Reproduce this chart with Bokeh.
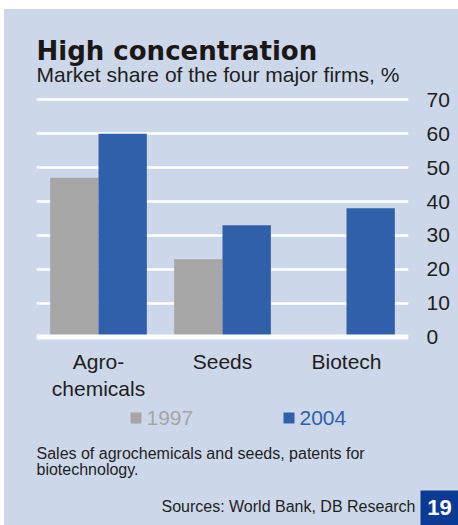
import numpy as np
from bokeh.plotting import figure
from bokeh.layouts import column
from bokeh.models import (ColumnDataSource, FactorRange, Range1d, FixedTicker,
                          Span, Label, BoxAnnotation)
from bokeh.transform import dodge
from bokeh.embed import file_html
from bokeh.resources import INLINE

# ---------------- data ----------------
categories = ["Agro-\nchemicals", "Seeds", "Biotech"]
series_names = ["1997", "2004"]
share_1997 = [47, 23, float("nan")]   # no 1997 value for Biotech
share_2004 = [60, 33, 38]
y_ticks = [0, 10, 20, 30, 40, 50, 60, 70]

title_text = "High concentration"
subtitle_text = "Market share of the four major firms, %"
note_lines = ["Sales of agrochemicals and seeds, patents for", "biotechnology."]
source_text = "Sources: World Bank, DB Research"
chart_number = "19"

# ---------------- style ----------------
BG = "#CCD8EA"
GRAY = "#A6A6A6"
BLUE = "#3060AA"
NAVY = "#0B3A94"
TXT = "#1E1E1E"
FONT = "Liberation Sans"
W = 454


def text_fig(h):
    f = figure(width=W, height=h, x_range=Range1d(0, W), y_range=Range1d(h, 0),
               min_border=0, min_border_left=0, min_border_right=0,
               min_border_top=0, min_border_bottom=0,
               x_axis_type=None, y_axis_type=None, toolbar_location=None,
               output_backend="svg", background_fill_color=None,
               border_fill_color=BG, outline_line_color=None)
    f.xgrid.visible = False
    f.ygrid.visible = False
    try:
        f.frame_align = False
    except Exception:
        pass
    return f


def lab(f, x, y, text, size, color=TXT, style="normal", align="left",
        font=FONT, baseline="alphabetic"):
    f.add_layout(Label(x=x, y=y, text=text, text_font=font, text_font_size=size,
                       text_color=color, text_font_style=style,
                       text_align=align, text_baseline=baseline))


# ---------------- header ----------------
top = text_fig(77)
lab(top, 32, 41, title_text, "26px", style="bold", font="DejaVu Sans", color="#1A1716")
lab(top, 32, 65, subtitle_text, "21px")

# ---------------- main chart ----------------
src = ColumnDataSource(dict(cat=categories, y1997=share_1997, y2004=share_2004))

p = figure(x_range=FactorRange(factors=categories, range_padding=0),
           y_range=Range1d(-1, 71),
           frame_width=372, frame_height=244,
           min_border_left=32, min_border_right=50,
           min_border_top=10, min_border_bottom=63,
           y_axis_location="right", toolbar_location=None,
           output_backend="svg",
           background_fill_color=None, border_fill_color=BG,
           outline_line_color=None)
try:
    p.frame_align = False
except Exception:
    pass

r1 = p.vbar(x=dodge("cat", -0.195, range=p.x_range), top="y1997", width=0.39,
            source=src, fill_color=GRAY, line_color=None)
r2 = p.vbar(x=dodge("cat", 0.195, range=p.x_range), top="y2004", width=0.39,
            source=src, fill_color=BLUE, line_color=None)

p.add_layout(Span(location=0, dimension="width", line_color="white", line_width=5))

ticker = FixedTicker(ticks=y_ticks)
p.yaxis.ticker = ticker
p.ygrid.ticker = ticker
p.ygrid.grid_line_color = "white"
p.ygrid.grid_line_width = 2.5
p.xgrid.grid_line_color = None

for ax in (p.xaxis[0], p.yaxis[0]):
    ax.axis_line_color = None
    ax.major_tick_line_color = None
    ax.minor_tick_line_color = None
    ax.major_tick_out = 0
    ax.major_tick_in = 0
    ax.major_label_text_font = FONT
    ax.major_label_text_font_size = "21px"
    ax.major_label_text_color = TXT
p.yaxis.major_label_standoff = 18
p.xaxis.major_label_standoff = 9

# ---------------- footer ----------------
bot = text_fig(122)
for name, color, xsq in ((series_names[0], GRAY, 126), (series_names[1], BLUE, 279)):
    bot.add_layout(BoxAnnotation(left=xsq, right=xsq + 11, top=9, bottom=20,
                                 fill_color=color, fill_alpha=1, line_color=None))
    lab(bot, xsq + 16, 14.5, name, "21px", color=color, baseline="middle")

lab(bot, 32, 50, note_lines[0], "16px")
lab(bot, 32, 66, note_lines[1], "16px")
lab(bot, 411, 103, source_text, "16px", align="right")
bot.add_layout(BoxAnnotation(left=416, right=454, top=87, bottom=122,
                             fill_color=NAVY, fill_alpha=1, line_color=None))
lab(bot, 435, 104, chart_number, "22px", color="white", style="bold",
    align="center", baseline="middle")

layout = column(top, p, bot, spacing=0, margin=(9, 0, 0, 4),
                styles={"background-color": BG})
open("out.html", "w").write(file_html(layout, INLINE))
